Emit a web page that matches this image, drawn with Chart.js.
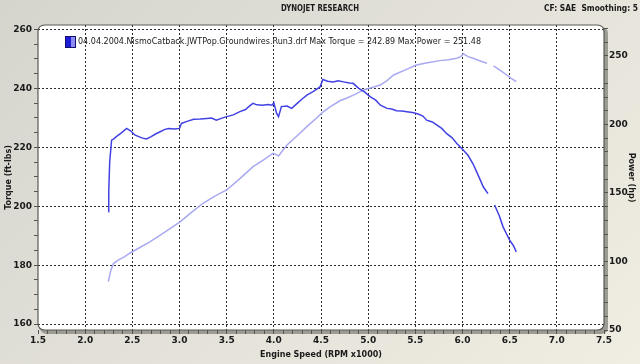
<!DOCTYPE html>
<html>
<head>
<meta charset="utf-8">
<script src="https://cdn.jsdelivr.net/npm/chart.js@4/dist/chart.umd.min.js"></script>
<style>
html, body { margin: 0; padding: 0; }
body {
    width: 640px; height: 364px; overflow: hidden;
    background: linear-gradient(135deg, #d5d5ce 0%, #e2e0d8 45%, #f0ede2 100%);
}
#wrap { position: relative; width: 640px; height: 364px; }
</style>
</head>
<body>
<div id="wrap"><canvas id="myChart" width="640" height="364"></canvas></div>
<script>
// torque run (ft-lbs), null = gap in the trace
const torqueRpm = [2.245, 2.25, 2.26, 2.28, 2.3, 2.33, 2.38, 2.44, 2.48, 2.53, 2.6, 2.65, 2.7, 2.75, 2.79, 2.84, 2.88, 2.95, 3.0, 3.02,
    3.08, 3.15, 3.22, 3.29, 3.34, 3.39, 3.45, 3.5, 3.57, 3.64, 3.7, 3.75, 3.78, 3.82, 3.88, 3.94, 3.98, 4.0, 4.03, 4.05,
    4.08, 4.14, 4.19, 4.25, 4.3, 4.35, 4.42, 4.49, 4.52, 4.57, 4.63, 4.68, 4.74, 4.8, 4.84, 4.9, 4.96, 5.02, 5.08, 5.13,
    5.2, 5.25, 5.3, 5.36, 5.41, 5.47, 5.53, 5.58, 5.62, 5.68, 5.73, 5.78, 5.83, 5.89, 5.94, 6.01, 6.06, 6.11, 6.16, 6.22,
    6.27, 6.3, 6.34, 6.39, 6.43, 6.47, 6.5, 6.54, 6.57];
const torque = [198.1, 205, 215, 222.4, 222.8, 223.6, 224.8, 226.4, 225.6, 224.1, 223.2, 222.8, 223.6, 224.6, 225.2, 226.0, 226.4, 226.2, 226.4, 228.1,
    228.8, 229.5, 229.6, 229.8, 229.9, 229.2, 229.9, 230.4, 231.0, 232.1, 232.8, 234.2, 234.9, 234.4, 234.3, 234.5, 234.3, 235.1, 231.5, 230.4,
    233.8, 234.0, 233.2, 235.0, 236.4, 237.7, 239.0, 240.5, 243.0, 242.4, 242.2, 242.6, 242.2, 241.8, 241.7, 240.0, 238.8, 237.2, 236.0, 234.3,
    233.2, 233.0, 232.4, 232.3, 232.1, 231.8, 231.3, 230.6, 229.2, 228.6, 227.5, 226.4, 224.7, 223.2, 221.3, 219.0, 217.2, 214.5, 211.0, 206.6,
    204.3, null, 200.4, 196.8, 193.0, 190.4, 188.5, 186.6, 184.5];

// power run (hp)
const powerRpm = [2.245, 2.27, 2.3, 2.35, 2.42, 2.48, 2.58, 2.69, 2.8, 2.9, 3.01, 3.13, 3.25, 3.37, 3.5, 3.64, 3.78, 3.9, 3.99, 4.02,
    4.05, 4.1, 4.14, 4.25, 4.35, 4.45, 4.52, 4.6, 4.7, 4.77, 4.86, 4.95, 5.05, 5.13, 5.2, 5.27, 5.4, 5.51, 5.63, 5.76,
    5.85, 5.94, 5.98, 6.01, 6.06, 6.11, 6.18, 6.26, 6.3, 6.33, 6.4, 6.47, 6.52, 6.57];
const power = [85.3, 93, 98.5, 101, 103.5, 106.4, 110.2, 114.5, 119.5, 124, 129.1, 136, 142.5, 147.5, 152.2, 160.5, 169.2, 174.5, 179, 178.2,
    177, 181.5, 185, 192, 198.4, 204.5, 209, 213, 217.3, 219.1, 222, 225.2, 227.2, 228.8, 232, 236.1, 240, 243.4, 245, 246.6,
    247.2, 248.3, 249.5, 251.5, 249.5, 248.3, 246.5, 244.7, null, 242.7, 239.5, 236.1, 233.5, 231.2];

// axis tick sets (major labelled, minor just tick marks)
const rpmTicks = { first: 1.5, last: 7.5, minor: 0.1, major: 0.5 };
const torqueTicks = { first: 160, last: 260, minor: 5, major: 20 };
const powerTicks = { first: 50, last: 270, minor: 10, major: 50 };

const runName = '04.04.2004.NismoCatback.JWTPop.Groundwires.Run3.drf';
const maxTorque = '242.89';
const maxPower = '251.48';

const FONT = "'DejaVu Sans', sans-serif";

const isMult = function (v, m) {
    return Math.abs(v / m - Math.round(v / m)) < 1e-6;
};

const toPoints = function (xs, ys) {
    return xs.map(function (x, i) { return { x: x, y: ys[i] }; });
};

const tickList = function (t) {
    const out = [];
    const n = Math.round((t.last - t.first) / t.minor);
    for (let i = 0; i <= n; i++) {
        out.push({ value: Math.round((t.first + i * t.minor) * 1000) / 1000 });
    }
    return out;
};

const roundRect = function (ctx, x, y, w, h, r) {
    ctx.beginPath();
    ctx.moveTo(x + r, y);
    ctx.lineTo(x + w - r, y);
    ctx.quadraticCurveTo(x + w, y, x + w, y + r);
    ctx.lineTo(x + w, y + h - r);
    ctx.quadraticCurveTo(x + w, y + h, x + w - r, y + h);
    ctx.lineTo(x + r, y + h);
    ctx.quadraticCurveTo(x, y + h, x, y + h - r);
    ctx.lineTo(x, y + r);
    ctx.quadraticCurveTo(x, y, x + r, y);
    ctx.closePath();
};

// white plot panel with rounded corners and a grey drop shadow
const plotPanel = {
    id: 'plotPanel',
    beforeDraw: function (chart) {
        const a = chart.chartArea;
        const ctx = chart.ctx;
        ctx.save();
        roundRect(ctx, a.left + 2, a.top + 2, a.right - a.left + 2, a.bottom - a.top + 2, 7);
        ctx.fillStyle = '#9c9b94';
        ctx.fill();
        roundRect(ctx, a.left, a.top, a.right - a.left, a.bottom - a.top, 7);
        ctx.fillStyle = '#ffffff';
        ctx.fill();
        ctx.restore();
    },
    afterDraw: function (chart) {
        const a = chart.chartArea;
        const ctx = chart.ctx;
        ctx.save();
        roundRect(ctx, a.left, a.top, a.right - a.left, a.bottom - a.top, 7);
        ctx.strokeStyle = '#5a5a56';
        ctx.lineWidth = 1.2;
        ctx.stroke();
        ctx.restore();
    }
};

// header texts and the one-line run legend
const headerText = {
    id: 'headerText',
    afterDraw: function (chart) {
        const ctx = chart.ctx;
        ctx.save();
        ctx.fillStyle = '#1a1a1a';
        ctx.textBaseline = 'middle';
        ctx.font = 'bold 9px ' + FONT;
        ctx.textAlign = 'center';
        ctx.fillText('DYNOJET RESEARCH', 320, 9, 78);
        ctx.textAlign = 'left';
        ctx.fillText('CF: SAE  Smoothing: 5', 544, 9, 94);

        // legend swatch
        ctx.fillStyle = '#1c1cd8';
        ctx.fillRect(66, 37, 5, 10);
        ctx.fillStyle = '#8c8cf4';
        ctx.fillRect(71, 37, 4, 10);
        ctx.strokeStyle = '#10106a';
        ctx.lineWidth = 1;
        ctx.strokeRect(65.5, 36.5, 10, 11);

        ctx.fillStyle = '#202020';
        ctx.font = '9px ' + FONT;
        ctx.fillText(runName + ' Max Torque = ' + maxTorque + ' Max Power = ' + maxPower, 78, 42, 403);
        ctx.restore();
    }
};

const tickFont = { family: FONT, size: 9, weight: 'bold' };
const titleFont = { family: FONT, size: 8, weight: 'bold' };

const ctx = document.getElementById('myChart').getContext('2d');
const myChart = new Chart(ctx, {
    type: 'line',
    data: {
        datasets: [{
            label: 'Torque',
            data: toPoints(torqueRpm, torque),
            borderColor: '#4242e4',
            borderWidth: 1.5,
            pointRadius: 0,
            tension: 0,
            spanGaps: false,
            yAxisID: 'y'
        }, {
            label: 'Power',
            data: toPoints(powerRpm, power),
            borderColor: '#a9a9f2',
            borderWidth: 1.5,
            pointRadius: 0,
            tension: 0,
            spanGaps: false,
            yAxisID: 'y2'
        }]
    },
    options: {
        responsive: false,
        animation: false,
        events: [],
        layout: { padding: { top: 25, left: 0, right: 0, bottom: 0 } },
        plugins: {
            legend: { display: false },
            title: { display: false },
            tooltip: { enabled: false }
        },
        scales: {
            x: {
                type: 'linear',
                min: 1.5,
                max: 7.5,
                border: { display: false, dash: [2, 2] },
                grid: {
                    color: function (c) {
                        const v = c.tick.value;
                        return isMult(v, rpmTicks.major) && v > 1.6 && v < 7.4 ? '#2a2a2a' : 'rgba(0,0,0,0)';
                    },
                    tickColor: '#55554f',
                    tickLength: 4,
                    lineWidth: 1
                },
                ticks: {
                    autoSkip: false,
                    maxRotation: 0,
                    padding: 1,
                    color: '#1a1a1a',
                    font: tickFont,
                    callback: function (v) { return isMult(v, rpmTicks.major) ? v.toFixed(1) : ''; }
                },
                afterBuildTicks: function (scale) { scale.ticks = tickList(rpmTicks); },
                title: { display: true, text: 'Engine Speed (RPM x1000)', color: '#1a1a1a', font: titleFont, padding: 4 },
                afterFit: function (scale) { scale.height = 34; }
            },
            y: {
                position: 'left',
                min: 158,
                max: 261.5,
                border: { display: false, dash: [2, 2] },
                grid: {
                    color: function (c) { return isMult(c.tick.value, torqueTicks.major) ? '#2a2a2a' : 'rgba(0,0,0,0)'; },
                    tickColor: '#55554f',
                    tickLength: 4,
                    lineWidth: 1
                },
                ticks: {
                    autoSkip: false,
                    padding: 2,
                    color: '#1a1a1a',
                    font: tickFont,
                    callback: function (v) { return isMult(v, torqueTicks.major) ? String(Math.round(v)) : ''; }
                },
                afterBuildTicks: function (scale) { scale.ticks = tickList(torqueTicks); },
                title: { display: true, text: 'Torque (ft-lbs)', color: '#1a1a1a', font: titleFont, padding: 4 },
                afterFit: function (scale) { scale.width = 38; }
            },
            y2: {
                position: 'right',
                min: 50,
                max: 272.6,
                border: { display: false },
                grid: {
                    drawOnChartArea: false,
                    tickColor: '#55554f',
                    tickLength: 4
                },
                ticks: {
                    autoSkip: false,
                    padding: 1,
                    color: '#1a1a1a',
                    font: tickFont,
                    callback: function (v) { return isMult(v, powerTicks.major) ? String(Math.round(v)) : ''; }
                },
                afterBuildTicks: function (scale) { scale.ticks = tickList(powerTicks); },
                title: { display: true, text: 'Power (hp)', color: '#1a1a1a', font: titleFont, padding: 4 },
                afterFit: function (scale) { scale.width = 36; }
            }
        }
    },
    plugins: [plotPanel, headerText]
});
</script>
</body>
</html>
